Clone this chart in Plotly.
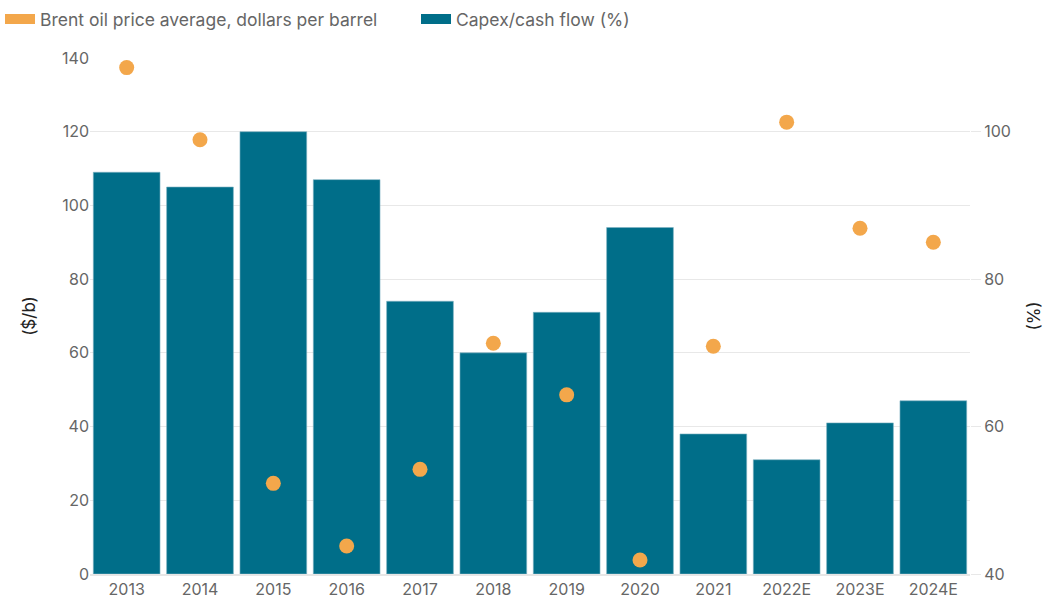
import plotly.graph_objects as go

years = ["2013", "2014", "2015", "2016", "2017", "2018", "2019", "2020", "2021", "2022E", "2023E", "2024E"]
capex_cash_flow = [109, 105, 120, 107, 74, 60, 71, 94, 38, 31, 41, 47]
brent_price = [108.7, 98.9, 52.3, 43.8, 54.2, 71.3, 64.3, 41.9, 70.9, 101.3, 86.9, 85.0]

orange = "#f3a74b"
teal = "#006e89"
font_family = "Inter, Roboto, sans-serif"
grey_text = "#666666"

fig = go.Figure()

fig.add_trace(go.Bar(
    x=years, y=capex_cash_flow, name="Capex/cash flow (%)",
    marker=dict(color=teal, line=dict(color="#7fb3c3", width=0.6)),
    yaxis="y", showlegend=False,
))

fig.add_trace(go.Scatter(
    x=years, y=brent_price, mode="markers", name="Brent oil price average, dollars per barrel",
    marker=dict(color=orange, size=15), yaxis="y2", showlegend=False,
))

# legend proxies (rectangular swatches drawn as thick legend lines)
fig.add_trace(go.Scatter(
    x=[None], y=[None], mode="lines", name="Brent oil price average, dollars per barrel",
    line=dict(color=orange, width=16), legendrank=1,
))
fig.add_trace(go.Scatter(
    x=[None], y=[None], mode="lines", name="Capex/cash flow (%)",
    line=dict(color=teal, width=16), legendrank=2,
))

fig.update_layout(
    width=1044, height=600,
    margin=dict(l=90, r=74, t=58, b=26, autoexpand=False),
    plot_bgcolor="white", paper_bgcolor="white",
    font=dict(family=font_family, size=16, color=grey_text),
    bargap=0.09,
    barmode="overlay",
    legend=dict(orientation="h", xref="container", yref="container",
                x=0.0, y=0.968, xanchor="left", yanchor="middle",
                font=dict(size=17.5, color=grey_text), traceorder="normal",
                itemwidth=30, entrywidth=371, bgcolor="rgba(0,0,0,0)"),
    xaxis=dict(
        type="category", categoryorder="array", categoryarray=years,
        showgrid=False, showline=True, linecolor="#e6e6e6", linewidth=1.5,
        ticks="", tickfont=dict(size=16, color=grey_text), range=[-0.5, 11.5],
    ),
    yaxis=dict(
        range=[0, 140], dtick=20, showgrid=True, gridcolor="#e8e8e8", gridwidth=1,
        zeroline=False, ticks="", tickfont=dict(size=16, color=grey_text),
        title=dict(text="($/b)", font=dict(size=17, color="#222222"), standoff=22),
    ),
    yaxis2=dict(
        range=[40, 110], tickvals=[40, 60, 80, 100], overlaying="y", side="right",
        showgrid=False, zeroline=False, ticks="outside", ticklen=10, tickcolor="#e8e8e8",
        tickfont=dict(size=16, color=grey_text),
        title=dict(text="(%)", font=dict(size=17, color="#222222"), standoff=20),
    ),
)

fig.write_html("out.html", config={"displayModeBar": False},
               post_script="document.body.style.margin='0';")
